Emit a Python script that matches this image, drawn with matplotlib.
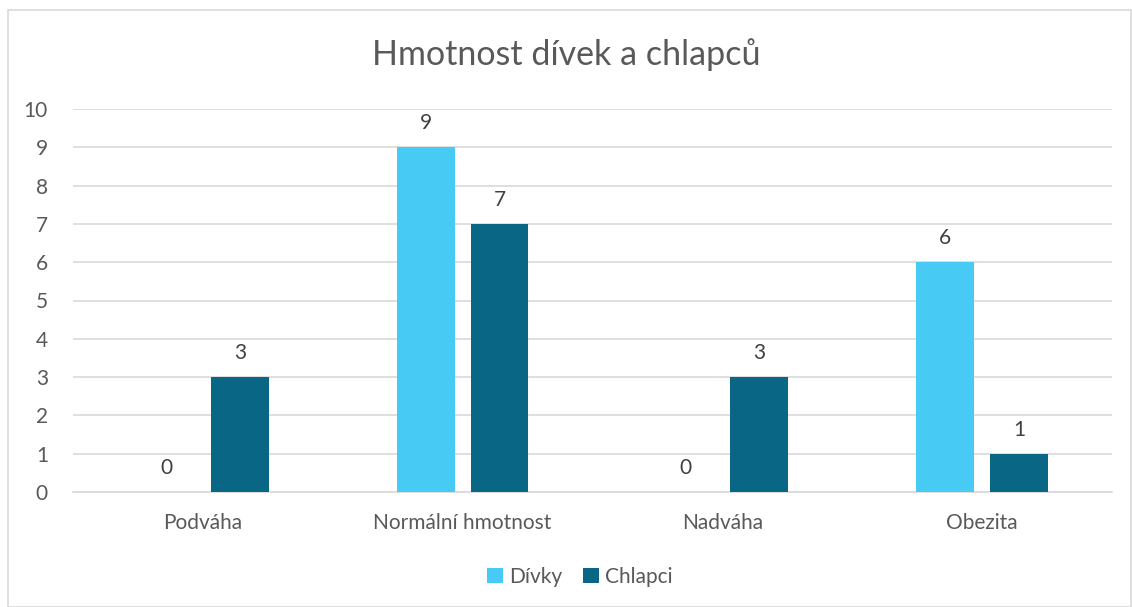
import matplotlib
matplotlib.use("Agg")
import numpy as np
from matplotlib import pyplot as plt
from matplotlib.patches import Rectangle

categories = ["Podváha", "Normální hmotnost", "Nadváha", "Obezita"]
divky = [0, 9, 0, 6]
chlapci = [3, 7, 3, 1]
series_names = ["Dívky", "Chlapci"]
colors = ["#47CBF5", "#0A6685"]

plt.rcParams['font.family'] = ['Lato', 'DejaVu Sans']
text_color = "#595959"

fig = plt.figure(figsize=(11.32, 6.07), dpi=100)
fig.patches.append(Rectangle((8 / 1132, 0), 1 - 8 / 1132 - 0.001, 1 - 10 / 607,
                             transform=fig.transFigure, fill=False,
                             edgecolor="#D9D9D9", linewidth=1.2))

ax = fig.add_axes([73 / 1132, 1 - 492 / 607, 1039 / 1132, 383 / 607])
x = np.arange(len(categories))
w = 0.223
off = 0.142
b1 = ax.bar(x - off, divky, w, color=colors[0], label=series_names[0], zorder=3)
b2 = ax.bar(x + off, chlapci, w, color=colors[1], label=series_names[1], zorder=3)
for bars in (b1, b2):
    ax.bar_label(bars, padding=10, fontsize=15, color="#404040")

ax.set_xlim(-0.5, len(categories) - 0.5)
ax.set_ylim(0, 10)
ax.set_yticks(range(0, 11))
ax.set_xticks(x)
ax.set_xticklabels(categories)
ax.grid(axis="y", color="#D9D9D9", linewidth=1.2, zorder=0)
for s in ("top", "right", "left"):
    ax.spines[s].set_visible(False)
ax.spines["bottom"].set_color("#D9D9D9")
ax.spines["bottom"].set_linewidth(1.2)
ax.tick_params(axis="both", length=0, labelsize=15, colors=text_color)
ax.tick_params(axis="x", pad=15)
ax.tick_params(axis="y", pad=18)

fig.text(0.5, 1 - 55 / 607, "Hmotnost dívek a chlapců", ha="center", va="center",
         fontsize=24.5, color=text_color)

fig.legend(loc="center", bbox_to_anchor=(580 / 1132, 1 - 577 / 607), ncol=2,
           frameon=False, fontsize=15, labelcolor=text_color,
           handlelength=0.75, handleheight=0.75, handletextpad=0.3, columnspacing=1.0)

fig.savefig("out.png", dpi=100)
